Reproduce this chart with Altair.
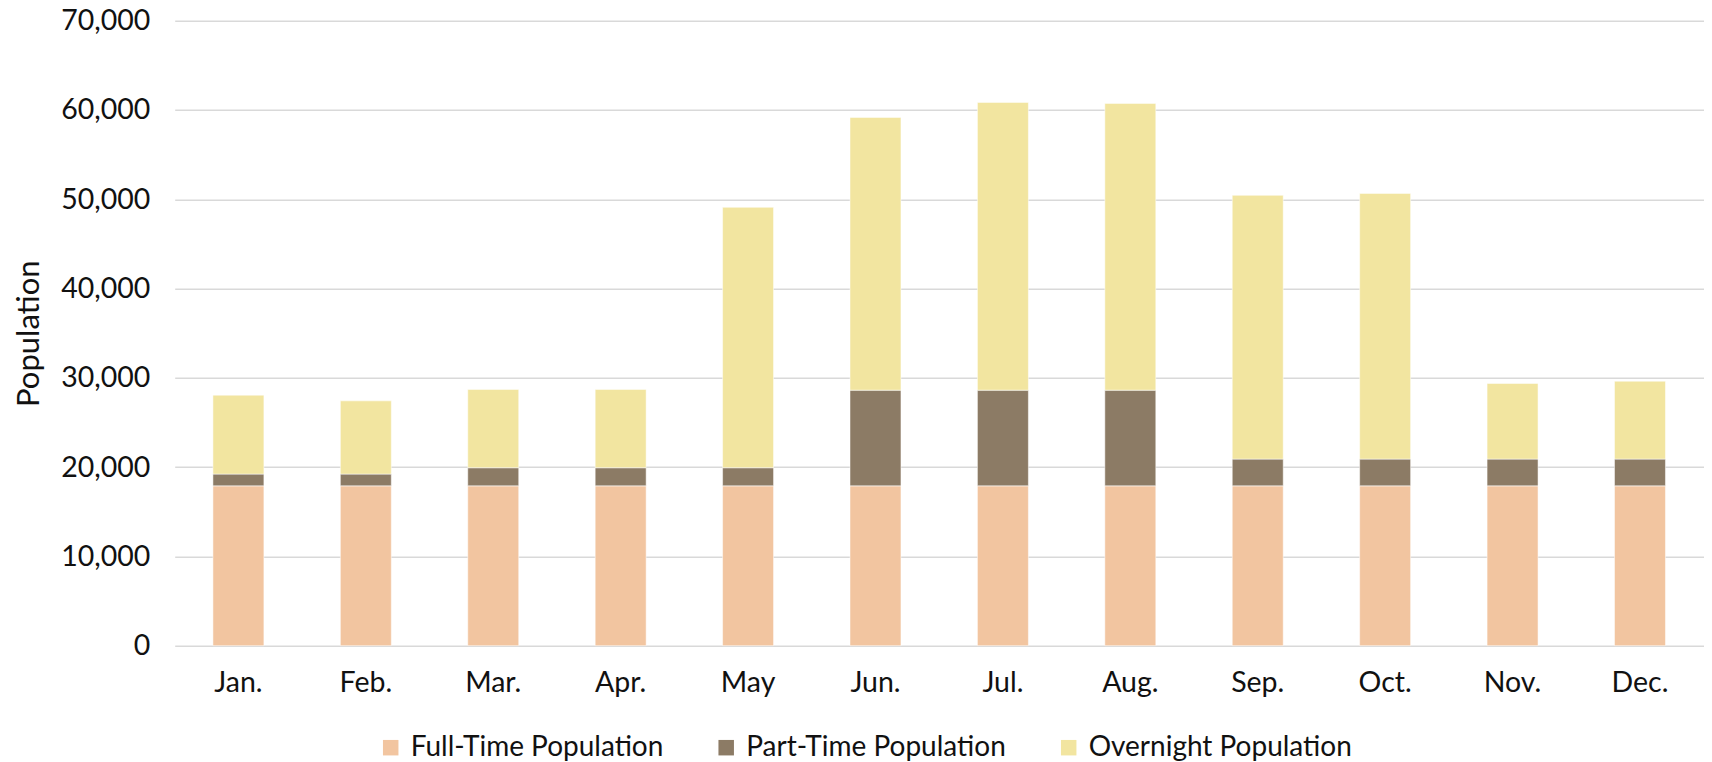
import altair as alt
import pandas as pd

months = ["Jan.", "Feb.", "Mar.", "Apr.", "May", "Jun.", "Jul.", "Aug.", "Sep.", "Oct.", "Nov.", "Dec."]
full_time = [17900, 17900, 17900, 17900, 17900, 17900, 17900, 17900, 17900, 17900, 17900, 17900]
part_time = [1320, 1320, 2030, 2030, 2030, 10720, 10720, 10720, 3000, 3000, 3000, 3000]
overnight = [8840, 8200, 8770, 8770, 29170, 30550, 32230, 32120, 29540, 29760, 8470, 8720]

series = ["Full-Time Population", "Part-Time Population", "Overnight Population"]
colors = ["#F2C5A0", "#8C7B65", "#F2E5A0"]

rows = []
for i, m in enumerate(months):
    for k, (name, vals) in enumerate(zip(series, [full_time, part_time, overnight])):
        rows.append({"Month": m, "Series": name, "Value": vals[i], "Order": k})
df = pd.DataFrame(rows)

FONT = "Lato"
FS = 28.5
TFS = 31
LFS = 28

chart = (
    alt.Chart(df)
    .mark_bar(stroke="#FFFFFF", strokeOpacity=0.5, strokeWidth=1)
    .encode(
        x=alt.X(
            "Month:N",
            sort=months,
            title=None,
            scale=alt.Scale(paddingInner=0.6, paddingOuter=0.3),
            axis=alt.Axis(labelAngle=0, labelPadding=23, ticks=False, domain=False,
                          labelFont=FONT, labelFontSize=FS, labelColor="#111111"),
        ),
        y=alt.Y(
            "Value:Q",
            stack="zero",
            title="Population",
            scale=alt.Scale(domain=[0, 70000], nice=False),
            axis=alt.Axis(values=[0, 10000, 20000, 30000, 40000, 50000, 60000, 70000],
                          format=",.0f", ticks=False, domain=False, labelPadding=25,
                          gridColor="#D9D9D9", gridWidth=1.5,
                          labelFont=FONT, labelFontSize=FS, labelColor="#111111",
                          titleFont=FONT, titleFontSize=TFS, titleFontWeight="normal",
                          titleColor="#111111", titlePadding=15),
        ),
        color=alt.Color(
            "Series:N",
            sort=series,
            scale=alt.Scale(domain=series, range=colors),
            legend=alt.Legend(
                title=None, orient="none", direction="horizontal",
                legendX=202, legendY=713,
                symbolType="square", symbolSize=240, symbolStrokeWidth=0,
                labelFont=FONT, labelFontSize=LFS, labelColor="#111111",
                labelOffset=6, columnPadding=48.5, labelLimit=500,
            ),
        ),
        order=alt.Order("Order:Q", sort="ascending"),
    )
    .properties(
        width=1529,
        height=625,
        autosize=alt.AutoSizeParams(type="none"),
        padding={"left": 166.7, "top": 12.7, "right": 0, "bottom": 120},
    )
    .configure_view(stroke=None)
)

chart.save("out.html", embed_options={"renderer": "svg", "actions": False})
